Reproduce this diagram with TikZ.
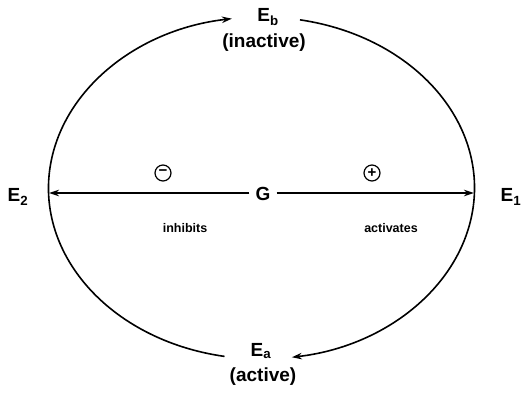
\documentclass[tikz,border=0pt]{standalone}
\usepackage{fontspec}
\setmainfont{Liberation Sans}
\usetikzlibrary{arrows.meta,calc}
\tikzset{
  conn/.style={line width=1.6pt,-{Stealth[length=10pt,width=6.5pt]}},
  big/.style={font=\bfseries\fontsize{19}{21}\selectfont,inner sep=0pt},
  sub/.style={font=\bfseries\fontsize{19}{21}\selectfont,inner sep=0pt},
  small/.style={font=\bfseries\fontsize{12.5}{15}\selectfont,inner sep=0pt},
  sign/.style={circle,draw,line width=1.2pt,minimum size=16pt,inner sep=0pt,font=\bfseries\fontsize{15}{15}\selectfont}
}
\begin{document}
\begin{tikzpicture}[x=1pt,y=1pt]
\useasboundingbox (0,0) rectangle (521,-394);
\coordinate (c) at (261.5,-188);
% labels
\node[big] (Eb) at (268,-17) {E\textsubscript{b}};
\node[sub] (inact) at (264,-43) {(inactive)};
\node[big] (Ea) at (261,-351) {E\textsubscript{a}};
\node[sub] (act) at (263,-377) {(active)};
\node[big] (E2) at (18,-197) {E\textsubscript{2}};
\node[big] (E1) at (511,-197) {E\textsubscript{1}};
\node[big,inner xsep=6pt] (G) at (263,-194) {G};
\node[sign] (minus) at (163,-173) {−};
\node[sign] (plus) at (372,-173) {+};
\node[small] (inh) at (185,-228) {inhibits};
\node[small] (actv) at (391,-228) {activates};
% ellipse arcs
\coordinate (a1) at ($(c)+(260:213 and 171)$);
\coordinate (a2) at ($(c)+(79.6:213 and 171)$);
\draw[conn] (a1) arc[start angle=260,end angle=98,x radius=213,y radius=171];
\draw[conn] (a2) arc[start angle=79.6,end angle=-81.8,x radius=213,y radius=171];
% horizontal arrows
\coordinate (L) at (49,-193);
\coordinate (R) at (474,-193);
\draw[conn] (G.west |- L) -- (L);
\draw[conn] (G.east |- R) -- (R);
\end{tikzpicture}
\end{document}
